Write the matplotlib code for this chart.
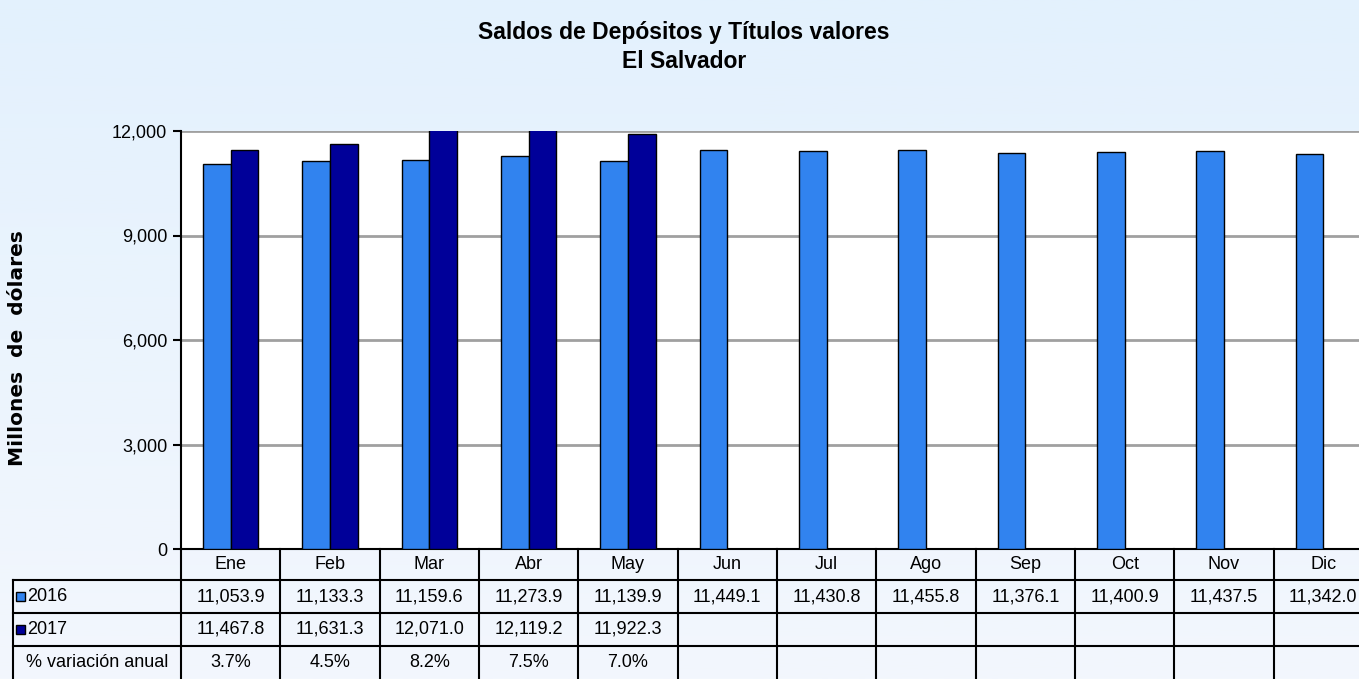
import numpy as np
import matplotlib
matplotlib.use("Agg")
from matplotlib import pyplot as plt
from matplotlib.patches import Rectangle
from matplotlib.colors import LinearSegmentedColormap

plt.rcParams['font.family'] = ['Liberation Sans', 'DejaVu Sans']

meses = ['Ene', 'Feb', 'Mar', 'Abr', 'May', 'Jun', 'Jul', 'Ago', 'Sep', 'Oct', 'Nov', 'Dic']
saldo_2016 = [11053.9, 11133.3, 11159.6, 11273.9, 11139.9, 11449.1,
              11430.8, 11455.8, 11376.1, 11400.9, 11437.5, 11342.0]
saldo_2017 = [11467.8, 11631.3, 12071.0, 12119.2, 11922.3]
variacion = ['3.7%', '4.5%', '8.2%', '7.5%', '7.0%']
y_ticks = [0, 3000, 6000, 9000, 12000]

c16 = '#3183ef'
c17 = '#000099'

W, H = 1359, 679
fig = plt.figure(figsize=(W / 100, H / 100), dpi=100)

# fondo degradado
bg = fig.add_axes([0, 0, 1, 1], zorder=-10)
grad = np.linspace(0, 1, 256).reshape(-1, 1)
cmap = LinearSegmentedColormap.from_list('bg', ['#e3f1fd', '#f3f7fd'])
bg.imshow(grad, aspect='auto', cmap=cmap, extent=[0, 1, 0, 1])
bg.axis('off')

left_px, right_px, top_px, bot_px = 181, 1373, 131, 549
ax = fig.add_axes([left_px / W, 1 - bot_px / H, (right_px - left_px) / W, (bot_px - top_px) / H])
ax.set_facecolor('white')

x = np.arange(len(meses))
w = 0.28
ax.bar(x - w / 2, saldo_2016, w, color=c16, edgecolor='black', linewidth=1, zorder=3)
ax.bar(x[:len(saldo_2017)] + w / 2, saldo_2017, w, color=c17, edgecolor='black', linewidth=1, zorder=3)

ax.set_xlim(-0.5, len(meses) - 0.5)
ax.set_ylim(0, 12000)
ax.set_yticks(y_ticks)
ax.set_yticklabels([f'{v:,}' for v in y_ticks], fontsize=13)
ax.yaxis.grid(True, color='#a0a0a0', linewidth=2, zorder=0)
ax.set_xticks([])
ax.tick_params(axis='y', direction='out', length=6, width=1.5, pad=4)
for s in ['top', 'right']:
    ax.spines[s].set_visible(False)
ax.spines['left'].set_linewidth(1.5)
ax.spines['bottom'].set_linewidth(1.5)

fig.text(18 / W, 1 - 348 / H, 'Millones  de  dólares', fontsize=14.5, fontweight='bold',
         family='DejaVu Sans', rotation=90, ha='center', va='center')

# tabla
trans = ax.get_xaxis_transform()
px = (bot_px - top_px)
y_h = -31 / px
y_r = [y_h, y_h - 33 / px, y_h - 66 / px, y_h - 99 / px]
y_end = y_h - 110 / px
col_px = (right_px - left_px) / len(meses)
x_lab = -0.5 - (left_px - 13) / col_px
n = len(meses)
lk = dict(color='black', linewidth=1.5, transform=trans, clip_on=False)

for i in range(n + 1):
    ax.plot([i - 0.5, i - 0.5], [0, y_end], **lk)
ax.plot([x_lab, x_lab], [y_r[0], y_end], **lk)
for yy in y_r[:3]:
    ax.plot([x_lab, n - 0.5], [yy, yy], **lk)

tk = dict(fontsize=13, transform=trans, va='center', ha='center', clip_on=False)
for i, m in enumerate(meses):
    ax.text(i, y_h / 2, m, **tk)
    ax.text(i, (y_r[0] + y_r[1]) / 2, f'{saldo_2016[i]:,.1f}', **tk)
for i, v in enumerate(saldo_2017):
    ax.text(i, (y_r[1] + y_r[2]) / 2, f'{v:,.1f}', **tk)
for i, v in enumerate(variacion):
    ax.text(i, (y_r[2] + y_r[3]) / 2, v, **tk)

# etiquetas de fila
for k, (lab, c) in enumerate([('2016', c16), ('2017', c17)]):
    yc = (y_r[k] + y_r[k + 1]) / 2
    ax.add_patch(Rectangle((x_lab + 3 / col_px, yc - 4.5 / px), 9 / col_px, 9 / px, facecolor=c,
                           edgecolor='black', linewidth=1, transform=trans, clip_on=False))
    ax.text(x_lab + 14 / col_px, yc, lab, fontsize=13, transform=trans,
            va='center', ha='left', clip_on=False)
ax.text((x_lab - 0.5) / 2, (y_r[2] + y_r[3]) / 2, '% variación anual', **tk)

fig.text(684 / W, 1 - 32 / H, 'Saldos de Depósitos y Títulos valores', fontsize=16.5,
         fontweight='bold', ha='center', va='center')
fig.text(684 / W, 1 - 62 / H, 'El Salvador', fontsize=16.5,
         fontweight='bold', ha='center', va='center')

fig.savefig('out.png', dpi=100)
